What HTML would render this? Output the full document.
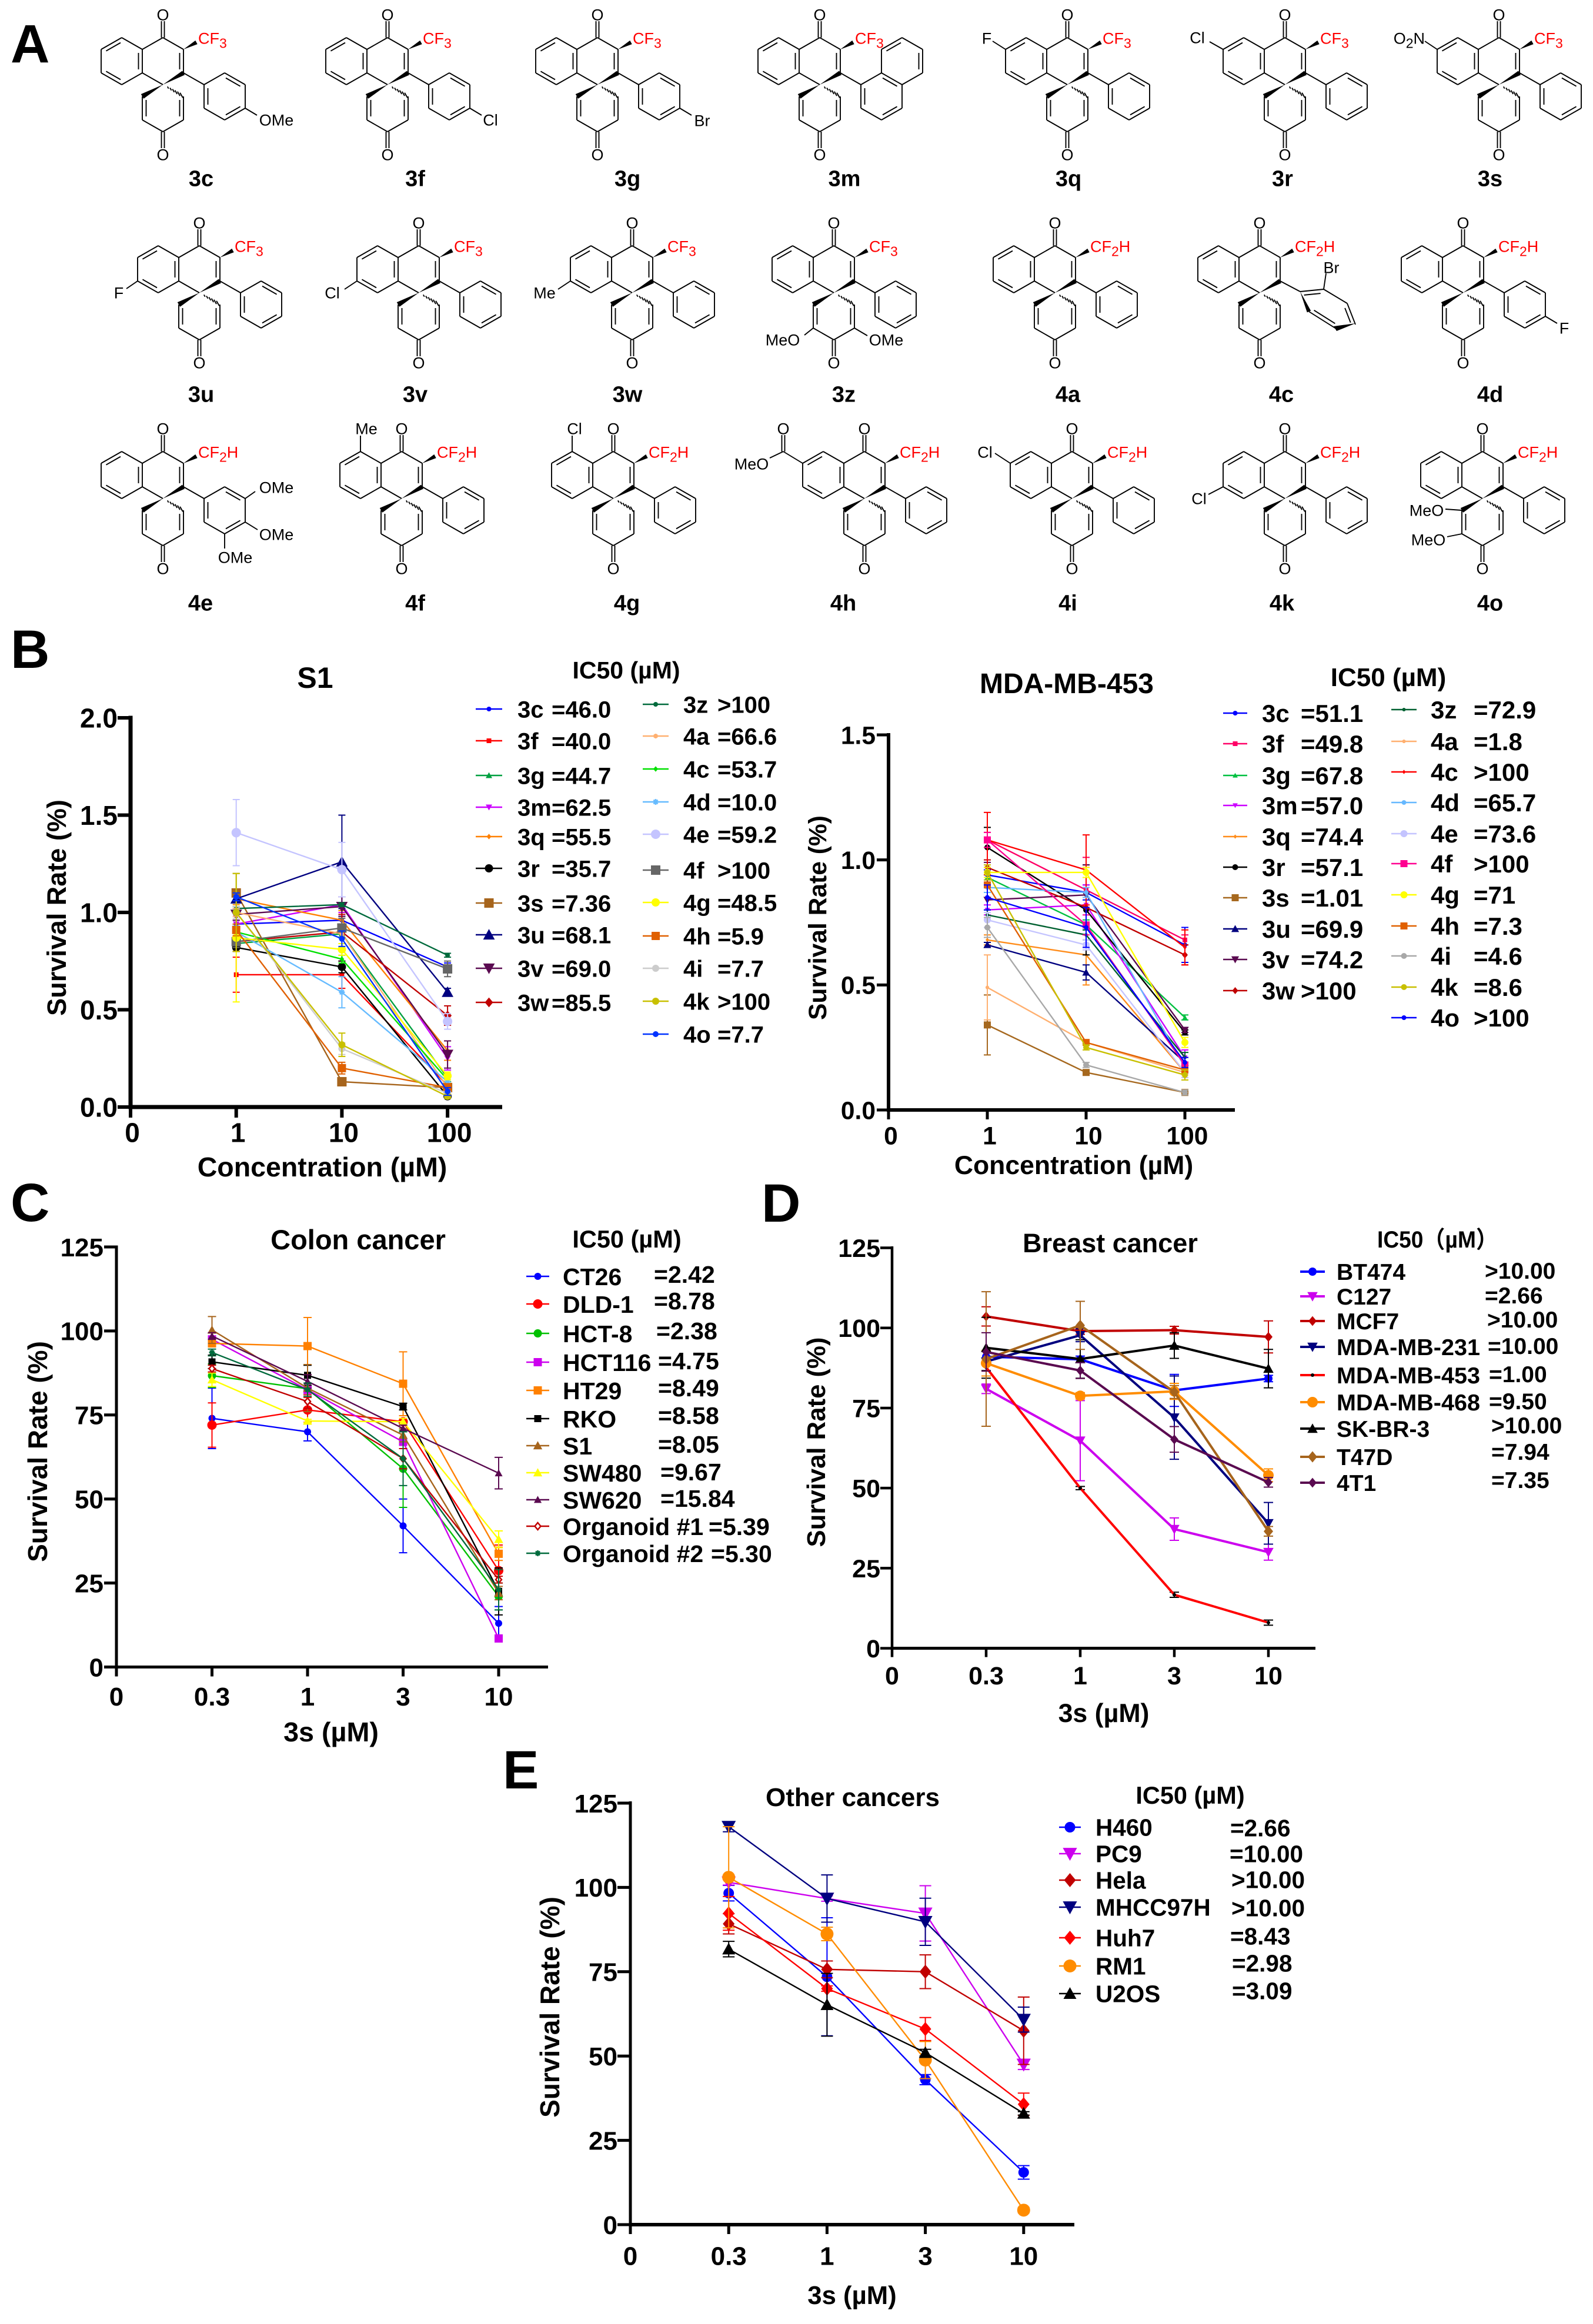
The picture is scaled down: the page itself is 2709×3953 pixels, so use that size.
<!DOCTYPE html>
<html lang="en">
<head>
<meta charset="utf-8">
<title>Compound structures and survival-rate charts</title>
<style>
html,body{margin:0;padding:0;background:#fff}
svg{display:block}
text{font-family:"Liberation Sans","Noto Sans CJK SC",sans-serif;fill:#000}
.b{font-weight:700}
.m{text-anchor:middle}
</style>
</head>
<body>
<svg id="fig" width="2709" height="3953" viewBox="0 0 2709 3953" xmlns="http://www.w3.org/2000/svg">
<rect x="0" y="0" width="2709" height="3953" fill="#fff"/>
<text class="b" x="18" y="106" font-size="92">A</text>
<text class="b" x="18" y="1136" font-size="92">B</text>
<text class="b" x="18" y="2077" font-size="92">C</text>
<text class="b" x="1295" y="2078" font-size="92">D</text>
<text class="b" x="855" y="3042" font-size="92">E</text>

<g id="structures"></g>

<g id="chart-s1">
<text class="b m" x="536" y="1170" font-size="50">S1</text>
<text class="b m" x="1065" y="1154" font-size="41">IC50 (µM)</text>
<text class="b m" transform="translate(112 1544) rotate(-90)" font-size="45">Survival Rate (%)</text>
<text class="b m" x="548" y="2001" font-size="46.5">Concentration (µM)</text>
</g>
<g id="chart-mda">
<text class="b m" x="1814" y="1179" font-size="48">MDA-MB-453</text>
<text class="b m" x="2361" y="1167" font-size="44">IC50 (µM)</text>
<text class="b m" transform="translate(1405 1561) rotate(-90)" font-size="42.6">Survival Rate (%)</text>
<text class="b m" x="1826" y="1997" font-size="44.5">Concentration (µM)</text>
</g>
<g id="chart-c">
<text class="b m" x="609" y="2125" font-size="47">Colon cancer</text>
<text class="b m" x="1066" y="2122" font-size="41.5">IC50 (µM)</text>
<text class="b m" transform="translate(80 2469) rotate(-90)" font-size="46">Survival Rate (%)</text>
<text class="b m" x="563" y="2962" font-size="46.7">3s (µM)</text>
</g>
<g id="chart-d">
<text class="b m" x="1888" y="2130" font-size="45">Breast cancer</text>
<text class="b" x="2342" y="2122" font-size="40" textLength="205" lengthAdjust="spacingAndGlyphs">IC50（µM）</text>
<text class="b m" transform="translate(1403 2453) rotate(-90)" font-size="43.7">Survival Rate (%)</text>
<text class="b m" x="1877" y="2929" font-size="44.7">3s (µM)</text>
</g>
<g id="chart-e">
<text class="b m" x="1450" y="3072" font-size="44">Other cancers</text>
<text class="b m" x="2024" y="3068" font-size="41.5">IC50 (µM)</text>
<text class="b m" transform="translate(951 3414) rotate(-90)" font-size="46">Survival Rate (%)</text>
<text class="b m" x="1449" y="3919" font-size="43.7">3s (µM)</text>
</g>
</svg>

<script>
/* ---------- chart data ---------- */
const s1XTicks = ['0','1','10','100'];
const s1YTicks = ['0.0','0.5','1.0','1.5','2.0'];
const s1Names = ['3c','3f','3g','3m','3q','3r','3s','3u','3v','3w','3z','4a','4c','4d','4e','4f','4g','4h','4i','4k','4o'];
const s1Ic50 = ['=46.0','=40.0','=44.7','=62.5','=55.5','=35.7','=7.36','=68.1','=69.0','=85.5','>100','=66.6','=53.7','=10.0','=59.2','>100','=48.5','=5.9','=7.7','>100','=7.7'];
const s1Values = [
 [0.94,0.96,0.72],[0.68,0.68,0.11],[0.84,0.89,0.15],[0.94,1.04,0.25],[1.07,0.96,0.29],
 [0.82,0.72,0.055],[1.10,0.13,0.10],[1.07,1.26,0.59],[0.99,1.03,0.27],[0.85,0.90,0.47],
 [1.02,1.04,0.78],[1.00,0.89,0.10],[0.90,0.76,0.14],[0.90,0.59,0.13],[1.41,1.22,0.44],
 [0.85,0.92,0.71],[0.87,0.81,0.16],[0.91,0.20,0.10],[1.00,0.30,0.07],[1.00,0.32,0.055],[1.08,0.865,0.08]
];
const s1Errors = [
 [.02,.02,.02],[.09,.07,.02],[.02,.02,.02],[.02,.04,.06],[.03,.05,.05],
 [.02,.03,.01],[.02,.02,.01],[.13,.24,.02],[.03,.05,.07],[.05,.09,.05],
 [.01,.01,.01],[.02,.02,.01],[.02,.02,.02],[.03,.08,.02],[.17,.14,.04],
 [.03,.05,.04],[.33,.03,.02],[.03,.03,.02],[.03,.03,.01],[.20,.06,.01],[.02,.04,.02]
];

const mdaXTicks = ['0','1','10','100'];
const mdaYTicks = ['0.0','0.5','1.0','1.5'];
const mdaNames = ['3c','3f','3g','3m','3q','3r','3s','3u','3v','3w','3z','4a','4c','4d','4e','4f','4g','4h','4i','4k','4o'];
const mdaIc50 = ['=51.1','=49.8','=67.8','=57.0','=74.4','=57.1','=1.01','=69.9','=74.2','>100','=72.9','=1.8','>100','=65.7','=73.6','>100','=71','=7.3','=4.6','=8.6','>100'];
const mdaValues = [
 [0.94,0.87,0.66],[1.08,0.88,0.68],[0.93,0.74,0.37],[0.80,0.82,0.21],[0.68,0.62,0.15],
 [1.05,0.80,0.31],[0.34,0.15,0.07],[0.66,0.55,0.19],[0.84,0.86,0.32],[0.97,0.81,0.62],
 [0.78,0.70,0.21],[0.49,0.27,0.15],[1.08,0.96,0.65],[0.89,0.87,0.17],[0.76,0.66,0.15],
 [1.08,0.74,0.18],[0.95,0.95,0.27],[0.90,0.27,0.16],[0.73,0.18,0.07],[0.95,0.25,0.14],[0.85,0.73,0.19]
];
const mdaErrors = [
 [.02,.03,.07],[.03,.13,.02],[.02,.02,.01],[.02,.08,.03],[.02,.12,.02],
 [.08,.18,.01],[.12,.01,.01],[.01,.03,.02],[.15,.12,.01],[.03,.16,.04],
 [.02,.02,.02],[.13,.01,.01],[.11,.14,.07],[.02,.02,.02],[.03,.02,.02],
 [.03,.04,.03],[.02,.02,.02],[.01,.01,.01],[.04,.01,.01],[.03,.01,.02],[.05,.08,.02]
];

const colonXTicks = ['0','0.3','1','3','10'];
const colonYTicks = ['0','25','50','75','100','125'];
const colonNames = ['CT26','DLD-1','HCT-8','HCT116','HT29','RKO','S1','SW480','SW620','Organoid #1','Organoid #2'];
const colonIc50 = ['=2.42','=8.78','=2.38','=4.75','=8.49','=8.58','=8.05','=9.67','=15.84','=5.39','=5.30'];
const colonValues = [
 [74,70,42,13],[72,76.5,73,28.7],[86.7,82.8,59,21],[97.5,82.5,67,8.5],[96.3,95.5,84.3,33.7],
 [90.8,86.8,77.5,22.5],[100.3,83,69,22],[85.5,73.2,73,38],[98.5,85,71,57.7],[88.8,79,62,26],[93.6,82.5,62,23]
];
const colonErrors = [
 [9,2.7,8,5],[6.6,3.7,1,7.6],[3.5,1,11.5,4],[1,1,1,1],[1,8.5,9.5,2],
 [2,3,1,7],[4,7,2,2],[2,.5,1,2.5],[1,2,1,4.7],[1,2,3,1],[1,2,8,6]
];

const breastXTicks = ['0','0.3','1','3','10'];
const breastYTicks = ['0','25','50','75','100','125'];
const breastNames = ['BT474','C127','MCF7','MDA-MB-231','MDA-MB-453','MDA-MB-468','SK-BR-3','T47D','4T1'];
const breastIc50 = ['>10.00','=2.66','>10.00','=10.00','=1.00','=9.50','>10.00','=7.94','=7.35'];
const breastValues = [
 [91,90.2,80.5,84.2],[81,64.8,37.2,30],[103.6,99,99.3,97.2],[89.5,97.7,72,39],[87.7,50,16.7,8],
 [89,78.8,80.2,54],[93.8,90.3,94.5,87.3],[90.3,100.8,80,36.5],[92.5,86.7,65.2,51.8]
];
const breastErrors = [
 [2,1,5,1],[1.5,12.5,3.5,2.5],[3,1,1.2,5],[1,2,13,6.5],[1,.5,.8,.8],
 [4,1,2.5,2],[9.5,6,4,6],[21,7.5,2,1.5],[6,2.5,4,1.5]
];

const otherXTicks = ['0','0.3','1','3','10'];
const otherYTicks = ['0','25','50','75','100','125'];
const otherNames = ['H460','PC9','Hela','MHCC97H','Huh7','RM1','U2OS'];
const otherIc50 = ['=2.66','=10.00','>10.00','>10.00','=8.43','=2.98','=3.09'];
const otherValues = [
 [98.3,73.5,43,15.5],[101.5,96.7,92.3,47.5],[89.2,75.7,75,57.5],[118,96.7,89.8,60.8],
 [92.3,70,58,35.7],[103,86.2,48.8,4.3],[81.7,65.2,51,33]
];
const otherErrors = [
 [2.3,17.5,1.5,2],[.8,.8,8.2,1.5],[3,2.5,5,10],[1.5,7,7,3.7],[5,.8,3.4,3.3],[15,2,5.5,.8],[2.3,9.3,1,.5]
];

/* ---------- helpers ---------- */
const NS = document.getElementById('fig').namespaceURI;
function mk(tag, parent){
  const e = document.createElementNS(NS, tag);
  parent.appendChild(e);
  return e;
}
function addText(parent, name, x, yc, str, size, opts){
  const o = opts || {};
  const t = mk('text', parent);
  
  
  t.setAttribute('x', x);
  t.setAttribute('y', yc + size * 0.36);
  t.setAttribute('font-size', size);
  if (o.bold) t.setAttribute('font-weight', '700');
  if (o.anchor) t.setAttribute('text-anchor', o.anchor);
  if (o.len){ t.setAttribute('textLength', o.len); t.setAttribute('lengthAdjust', 'spacingAndGlyphs'); }
  if (o.color) t.style.fill = o.color;
  t.textContent = str;
  return t;
}
function markerShape(parent, type, x, y, r, color){
  let m;
  if (type === 'circle'){
    m = mk('circle', parent);
    m.setAttribute('cx', x); m.setAttribute('cy', y); m.setAttribute('r', r);
    m.setAttribute('fill', color);
  } else if (type === 'square'){
    m = mk('rect', parent);
    m.setAttribute('x', x - r); m.setAttribute('y', y - r);
    m.setAttribute('width', 2 * r); m.setAttribute('height', 2 * r);
    m.setAttribute('fill', color);
  } else {
    m = mk('path', parent);
    let d = '';
    if (type === 'up') d = `M${x} ${y-r*1.1}L${x+r*1.1} ${y+r*0.9}L${x-r*1.1} ${y+r*0.9}Z`;
    if (type === 'down') d = `M${x} ${y+r*1.1}L${x+r*1.1} ${y-r*0.9}L${x-r*1.1} ${y-r*0.9}Z`;
    if (type === 'diamond' || type === 'open') d = `M${x} ${y-r*1.2}L${x+r} ${y}L${x} ${y+r*1.2}L${x-r} ${y}Z`;
    if (type === 'star') d = `M${x-r} ${y}H${x+r}M${x} ${y-r}V${y+r}M${x-r*.7} ${y-r*.7}L${x+r*.7} ${y+r*.7}M${x+r*.7} ${y-r*.7}L${x-r*.7} ${y+r*.7}`;
    m.setAttribute('d', d);
    if (type === 'star'){ m.setAttribute('fill', 'none'); m.setAttribute('stroke', color); m.setAttribute('stroke-width', 2.5); }
    else if (type === 'open'){ m.setAttribute('fill', '#fff'); m.setAttribute('stroke', color); m.setAttribute('stroke-width', 2.5); }
    else m.setAttribute('fill', color);
  }
  
  
  return m;
}
function segment(parent, x1, y1, x2, y2, color, w){
  const l = mk('line', parent);
  l.setAttribute('x1', x1); l.setAttribute('y1', y1);
  l.setAttribute('x2', x2); l.setAttribute('y2', y2);
  l.setAttribute('stroke', color); l.setAttribute('stroke-width', w);
  return l;
}

/* ---------- chart drawing ---------- */
function drawChart(id, xTicks, yTicks, names, ic50, values, errors, cfg){
  const root = document.getElementById(id);
  const yMax = parseFloat(yTicks[yTicks.length - 1]);
  const xOf = i => cfg.x0 + cfg.step * i;
  const yOf = v => cfg.y0 - (v / yMax) * (cfg.y0 - cfg.yTop);
  const markColor = s => (cfg.markerColors && cfg.markerColors[s]) || cfg.colors[s];

  // axes
  const yAxis = mk('g', root);
  
  
  segment(yAxis, cfg.x0, cfg.yTop - cfg.ah / 2, cfg.x0, cfg.y0 + cfg.ah / 2, '#000', cfg.av);
  yTicks.forEach(t => {
    const y = yOf(parseFloat(t));
    segment(yAxis, cfg.x0 - cfg.ytl, y, cfg.x0, y, '#000', cfg.tw);
    addText(yAxis, 'y-tick-label', cfg.yLabelX, y, t, cfg.tickFs, {bold:true, anchor:'end'});
  });
  const xAxis = mk('g', root);
  
  
  segment(xAxis, cfg.x0 - cfg.av / 2, cfg.y0, cfg.xEnd, cfg.y0, '#000', cfg.ah);
  xTicks.forEach((t, i) => {
    const x = xOf(i);
    segment(xAxis, x, cfg.y0, x, cfg.y0 + cfg.xtl, '#000', cfg.tw);
    addText(xAxis, 'x-tick-label', x + cfg.labelDx, cfg.xLabelY, t, cfg.tickFs, {bold:true, anchor:'middle'});
  });

  // series
  values.forEach((row, s) => {
    const g = mk('g', root);
    
    
    const color = cfg.colors[s];
    row.forEach((v, i) => {
      const x = xOf(i + 1), e = errors[s][i];
      const bar = mk('path', g);
      
      
      const c = cfg.cap;
      bar.setAttribute('d', `M${x} ${yOf(v-e)}V${yOf(v+e)}M${x-c} ${yOf(v+e)}H${x+c}M${x-c} ${yOf(v-e)}H${x+c}`);
      bar.setAttribute('fill', 'none');
      bar.setAttribute('stroke', markColor(s));
      bar.setAttribute('stroke-width', cfg.errW);
    });
    const line = mk('polyline', g);
    
    
    line.setAttribute('points', row.map((v, i) => xOf(i + 1) + ',' + yOf(v)).join(' '));
    line.setAttribute('fill', 'none');
    line.setAttribute('stroke', color);
    line.setAttribute('stroke-width', cfg.lineW);
    row.forEach((v, i) => markerShape(g, cfg.shapes[s], xOf(i + 1), yOf(v), cfg.sizes[s], markColor(s)));
  });

  // legend
  const L = cfg.legend;
  names.forEach((n, s) => {
    const g = mk('g', root);
    
    
    const col = L.cols.find(c => s >= c.start && s < c.start + c.ys.length);
    const k = s - col.start, y = col.ys[k];
    segment(g, col.key[0], y, col.key[1], y, cfg.colors[s], cfg.keyW);
    markerShape(g, cfg.shapes[s], (col.key[0] + col.key[1]) / 2, y, cfg.sizes[s], markColor(s));
    const lens = L.nameLens || {};
    addText(g, 'legend-label', col.nameX, y, n, L.fs, {bold:true, len: lens[s]});
    const vx = col.valXs ? col.valXs[k] : col.valX;
    const vy = col.valYs ? col.valYs[k] : y;
    addText(g, 'legend-ic50-value', vx, vy, ic50[s], L.fs, {bold:true});
  });
}

function drawAllCharts(){
  const gColors = ['#0000ff','#ff0000','#00a040','#cc00ff','#ff8000','#000000','#a6641c','#00007f','#5a0a50','#c00000','#006a3c','#ffb070','#00e000','#66bbff','#c4c4ff','#666666','#ffff00','#e06000','#cccccc','#c8c000','#0033ff'];
  const gShapes = ['circle','square','up','down','diamond','circle','square','up','down','diamond','circle','star','diamond','star','circle','square','circle','square','circle','circle','circle'];
  const gSizes = [4,4,5,5,4,7,8,9,9,7,4,4,4,5,8,8,7,7,6,6,5];
  const mSizes = [4,4,4,4,3,5,6,6,6,5,3,3,3,4,6,6,6,6,5,5,4];

  drawChart('chart-s1', s1XTicks, s1YTicks, s1Names, s1Ic50, s1Values, s1Errors, {
    x0:222, step:179.7, xEnd:854, y0:1883, yTop:1221, av:7, ah:7, tw:6, ytl:22, xtl:18,
    yLabelX:200, xLabelY:1926, tickFs:46, labelDx:3, cap:6, errW:2, lineW:2.4, keyW:2.5,
    colors:gColors, shapes:gShapes, sizes:gSizes,
    legend:{fs:40, cols:[
      {start:0, key:[809,854], nameX:880, valX:938, ys:[1206,1260,1319,1373,1423,1477,1536,1590,1647,1705]},
      {start:10, key:[1093,1137], nameX:1162, valX:1220, ys:[1198,1252,1308,1364,1419,1480,1535,1592,1647,1703,1759]}
    ]}
  });

  const mColors = ['#0000ff','#ff0066','#00c040','#cc00ff','#ff8c1a','#000000','#a6681e','#00007f','#5a0a50','#c00000','#006030','#ffb070','#ff0000','#66b8ff','#c4c4ff','#ff0090','#ffff00','#e06000','#a8a8a8','#c8c000','#0000ff'];
  drawChart('chart-mda', mdaXTicks, mdaYTicks, mdaNames, mdaIc50, mdaValues, mdaErrors, {
    x0:1511, step:168, xEnd:2100, y0:1888, yTop:1250, av:6, ah:6, tw:5, ytl:20, xtl:16,
    yLabelX:1489, xLabelY:1931, tickFs:42.5, labelDx:4, cap:6, errW:2, lineW:2.4, keyW:2.5,
    colors:mColors, shapes:gShapes, sizes:mSizes,
    legend:{fs:42, cols:[
      {start:0, key:[2080,2121], nameX:2146, valX:2212, ys:[1213,1265,1319,1370,1423,1475,1527,1580,1632,1685]},
      {start:10, key:[2366,2409], nameX:2433, valX:2506, ys:[1207,1261,1313,1365,1418,1469,1522,1575,1626,1679,1731]}
    ]}
  });

  drawChart('chart-c', colonXTicks, colonYTicks, colonNames, colonIc50, colonValues, colonErrors, {
    x0:198, step:162.5, xEnd:932, y0:2835.5, yTop:2121, av:5, ah:5, tw:5, ytl:21, xtl:16,
    yLabelX:176, xLabelY:2885, tickFs:44, labelDx:0, cap:7, errW:2, lineW:2.4, keyW:2.5,
    colors:['#0000ff','#ff0000','#00c000','#cc00ee','#ff8000','#000000','#a6641c','#ffff00','#5a0a50','#c00000','#006a3c'],
    shapes:['circle','circle','circle','square','square','square','up','up','up','open','star'],
    sizes:[6,8,7,7,7,6,7,7,6,5,5],
    legend:{fs:41, cols:[
      {start:0, key:[895,934], nameX:957,
       valXs:[1112,1112,1116,1119,1119,1119,1119,1123,1123,1205,1209],
       valYs:[2167,2212,2263,2314,2360,2407,2456,2503,2548,2596,2642],
       ys:[2171,2218,2268,2317,2365,2413,2459,2505,2551,2596,2642]}
    ]}
  });

  drawChart('chart-d', breastXTicks, breastYTicks, breastNames, breastIc50, breastValues, breastErrors, {
    x0:1517, step:160, xEnd:2237, y0:2803.6, yTop:2122.5, av:4.5, ah:5, tw:4.5, ytl:20, xtl:15,
    yLabelX:1497, xLabelY:2849.5, tickFs:43, labelDx:0, cap:8, errW:2, lineW:4, keyW:4,
    colors:['#0000ff','#cc00ee','#c00000','#00007f','#ff0000','#ff8c00','#000000','#a6641c','#5a0a50'],
    markerColors:{4:'#000000'},
    shapes:['circle','down','diamond','down','circle','circle','up','diamond','diamond'],
    sizes:[7,8,7,8,3,9,8,8,7],
    legend:{fs:39, nameLens:{3:244,4:244,5:244}, cols:[
      {start:0, key:[2211,2253], nameX:2273,
       valXs:[2525,2525,2529,2530,2532,2532,2536,2536,2536],
       valYs:[2161,2203,2244,2289,2337,2383,2424,2469,2517],
       ys:[2163,2205,2247,2291,2339,2385,2430,2478,2522]}
    ]}
  });

  drawChart('chart-e', otherXTicks, otherYTicks, otherNames, otherIc50, otherValues, otherErrors, {
    x0:1072, step:167.2, xEnd:1827, y0:3784, yTop:3067, av:5, ah:6, tw:5, ytl:22, xtl:16,
    yLabelX:1050, xLabelY:3836.5, tickFs:44, labelDx:0, cap:10, errW:2, lineW:2.4, keyW:2.5,
    colors:['#0000ff','#cc00ee','#c00000','#00007f','#ff0000','#ff8c00','#000000'],
    shapes:['circle','down','diamond','down','diamond','circle','up'],
    sizes:[9,11,10,11,10,11,10],
    legend:{fs:40.5, cols:[
      {start:0, key:[1801,1838], nameX:1863,
       valXs:[2092,2091,2094,2094,2092,2095,2095],
       valYs:[3109,3153,3197,3245,3293,3339,3386],
       ys:[3108,3153,3198,3244,3296,3344,3391]}
    ]}
  });
}

/* ---------- chemical structures ---------- */
function drawStructure(parent, c){
  const g = mk('g', parent);
  
  
  const ax = c.x, ay = c.y;
  let s = '', f = '';
  const bond = (p, q) => { s += `M${ax+p[0]} ${ay+p[1]}L${ax+q[0]} ${ay+q[1]}`; };
  const inner = (p, q, ctr) => {
    const mx = (p[0]+q[0])/2, my = (p[1]+q[1])/2;
    let dx = q[0]-p[0], dy = q[1]-p[1];
    const len = Math.hypot(dx, dy); dx /= len; dy /= len;
    let nx = -dy, ny = dx;
    if ((ctr[0]-mx)*nx + (ctr[1]-my)*ny < 0){ nx = -nx; ny = -ny; }
    const o = 6.5, sh = 6;
    bond([p[0]+nx*o+dx*sh, p[1]+ny*o+dy*sh], [q[0]+nx*o-dx*sh, q[1]+ny*o-dy*sh]);
  };
  const wedge = (p, q, w) => {
    let dx = q[0]-p[0], dy = q[1]-p[1];
    const len = Math.hypot(dx, dy); dx /= len; dy /= len;
    const nx = -dy*w/2, ny = dx*w/2;
    f += `M${ax+p[0]} ${ay+p[1]}L${ax+q[0]+nx} ${ay+q[1]+ny}L${ax+q[0]-nx} ${ay+q[1]-ny}Z`;
  };
  const K=[0,0],Kc=[35,20],D=[35,60],S=[0,80],F1=[-35,20],F2=[-35,60];
  const B1=[-70,0],B2=[-105,20],B3=[-105,60],B4=[-70,80];
  const L1=[-35,100],L2=[-35,140],Bot=[0,160],R2=[35,140],R1=[35,100];
  const A0=[70,80],A1=[105,60],A2=[140,80],A3=[140,120],A4=[105,140],A5=[70,120];
  const cB=[-70,40],cC=[0,40],cL=[0,120],cA=[105,100];
  // core rings
  [[K,Kc],[Kc,D],[S,F2],[F2,F1],[F1,K],[F1,B1],[B1,B2],[B2,B3],[B3,B4],[B4,F2],[L1,L2],[L2,Bot],[Bot,R2],[R2,R1]].forEach(b => bond(b[0], b[1]));
  inner(F1,F2,cB); inner(B1,B2,cB); inner(B3,B4,cB); inner(Kc,D,cC); inner(L1,L2,cL); inner(R1,R2,cL);
  // carbonyls
  bond([-2.5,0],[-2.5,-28]); bond([2.5,0],[2.5,-28]);
  bond([-2.5,160],[-2.5,188]); bond([2.5,160],[2.5,188]);
  // stereo bonds
  wedge(Kc,[57,8],7); wedge(S,D,8); wedge(S,L1,9);
  for (let i = 1; i <= 6; i++){
    const t = 0.12 + i * 0.13, hx = 35*t, hy = 80 + 20*t, h = 0.8 + 4.5*t;
    bond([hx - h*0.5, hy - h*0.87], [hx + h*0.5, hy + h*0.87]);
  }
  // aryl ring
  if (c.aryl !== 'twist'){
    [[D,A0],[A0,A1],[A1,A2],[A2,A3],[A3,A4],[A4,A5],[A5,A0]].forEach(b => bond(b[0], b[1]));
    inner(A1,A2,cA); inner(A3,A4,cA); inner(A5,A0,cA);
  } else {
    const T0=[69,78],T1=[109,74],T2=[149,98],T3=[163,134],T4=[130,141],T5=[84,112];
    [[D,T0],[T0,T1],[T1,T2],[T2,T3],[T4,T5]].forEach(b => bond(b[0], b[1]));
    inner(T0,T1,[116,108]); inner(T2,T3,[116,108]); inner(T4,T5,[116,108]);
    wedge(T0,T5,7); f += `M${ax+163} ${ay+132}L${ax+126} ${ay+137}L${ax+131} ${ay+145}Z`;
  }
  (c.bonds || []).forEach(b => bond([b[0],b[1]],[b[2],b[3]]));
  if (c.naph){
    const N1=[105,20],N2=[140,0],N3=[175,20],N4=[175,60],cN=[140,40];
    [[A1,N1],[N1,N2],[N2,N3],[N3,N4],[N4,A2]].forEach(b => bond(b[0], b[1]));
    inner(N1,N2,cN); inner(N3,N4,cN);
  }
  const sp = mk('path', g);
  
  
  sp.setAttribute('d', s);
  sp.setAttribute('fill', 'none');
  sp.setAttribute('stroke', '#000');
  sp.setAttribute('stroke-width', 1.9);
  const fp = mk('path', g);
  
  
  fp.setAttribute('d', f);
  fp.setAttribute('fill', '#000');
  // atoms
  addText(g, 'atom-label', ax, ay - 39, 'O', 27, {anchor:'middle'});
  addText(g, 'atom-label', ax, ay + 199, 'O', 27, {anchor:'middle'});
  const rf = addText(g, 'fluoroalkyl-label', ax + 60, ay + 1, 'CF', 27, {color:'#ff0000'});
  const sub = mk('tspan', rf);
  sub.setAttribute('dy', 7);
  sub.setAttribute('font-size', 23);
  sub.textContent = c.cf2h ? '2' : '3';
  if (c.cf2h){
    const h = mk('tspan', rf);
    h.setAttribute('dy', -7);
    h.textContent = 'H';
  }
  (c.atoms || []).forEach(a => {
    if (a[0] === 'O2N'){
      const t = addText(g, 'substituent-label', ax + a[1], ay + a[2], 'O', 27, {anchor:'end'});
      const sb = mk('tspan', t);
      sb.setAttribute('dy', 7);
      sb.setAttribute('font-size', 23);
      sb.textContent = '2';
      const nn = mk('tspan', t);
      nn.setAttribute('dy', -7);
      nn.textContent = 'N';
    } else {
      addText(g, 'substituent-label', ax + a[1], ay + a[2], a[0], 27, {anchor:'middle'});
    }
  });
  addText(g, 'compound-label', c.lx, c.ly, c.id, 38, {bold:true, anchor:'middle'});
}

function drawAllStructures(){
  const root = document.getElementById('structures');
  const paraB = [140,120,160,132];
  const list = [
    {id:'3c',x:277,y:64,lx:342,ly:303,bonds:[paraB],atoms:[['OMe',193,140]]},
    {id:'3f',x:659,y:64,lx:706,ly:303,bonds:[paraB],atoms:[['Cl',175,140]]},
    {id:'3g',x:1016,y:64,lx:1067,ly:303,bonds:[paraB],atoms:[['Br',178,141]]},
    {id:'3m',x:1394,y:64,lx:1436,ly:303,naph:true},
    {id:'3q',x:1815,y:64,lx:1817,ly:303,bonds:[[-105,20,-127,6]],atoms:[['F',-137,1]]},
    {id:'3r',x:2185,y:64,lx:2181,ly:303,bonds:[[-105,20,-128,7]],atoms:[['Cl',-149,0]]},
    {id:'3s',x:2549,y:64,lx:2534,ly:303,bonds:[[-105,20,-126,6]],atoms:[['O2N',-126,1]]},
    {id:'3u',x:339,y:418,lx:342,ly:670,bonds:[[-105,60,-124,73]],atoms:[['F',-137,80]]},
    {id:'3v',x:712,y:418,lx:706,ly:670,bonds:[[-105,60,-126,74]],atoms:[['Cl',-147,80]]},
    {id:'3w',x:1075,y:418,lx:1067,ly:670,bonds:[[-105,60,-126,74]],atoms:[['Me',-149,80]]},
    {id:'3z',x:1418,y:418,lx:1435,ly:670,bonds:[[-35,140,-50,152],[35,140,57,153]],atoms:[['MeO',-87,160],['OMe',89,160]]},
    {id:'4a',x:1794,y:418,lx:1816,ly:670,cf2h:true},
    {id:'4c',x:2142,y:418,lx:2179,ly:670,cf2h:true,aryl:'twist',bonds:[[109,74,113,47]],atoms:[['Br',122,37]]},
    {id:'4d',x:2488,y:418,lx:2534,ly:670,cf2h:true,bonds:[paraB],atoms:[['F',172,140]]},
    {id:'4e',x:277,y:768,lx:341,ly:1025,cf2h:true,bonds:[[140,80,157,68],[140,120,161,133],[105,140,105,165]],atoms:[['OMe',193,61],['OMe',193,141],['OMe',123,180]]},
    {id:'4f',x:683,y:768,lx:706,ly:1025,cf2h:true,bonds:[[-70,0,-70,-27]],atoms:[['Me',-60,-39]]},
    {id:'4g',x:1043,y:768,lx:1066,ly:1025,cf2h:true,bonds:[[-70,0,-70,-27]],atoms:[['Cl',-66,-39]]},
    {id:'4h',x:1470,y:768,lx:1434,ly:1025,cf2h:true,bonds:[[-105,20,-138,0],[-140.5,0,-140.5,-28],[-135.5,0,-135.5,-28],[-138,0,-161,11]],atoms:[['O',-138,-39],['MeO',-192,21]]},
    {id:'4i',x:1823,y:768,lx:1816,ly:1025,cf2h:true,bonds:[[-105,20,-131,3]],atoms:[['Cl',-148,1]]},
    {id:'4k',x:2185,y:768,lx:2180,ly:1025,cf2h:true,bonds:[[-105,60,-130,73]],atoms:[['Cl',-146,80]]},
    {id:'4o',x:2521,y:768,lx:2534,ly:1025,cf2h:true,bonds:[[-35,100,-63,98],[-35,140,-60,145]],atoms:[['MeO',-95,100],['MeO',-92,150]]}
  ];
  list.forEach(c => drawStructure(root, c));
}

drawAllStructures();
drawAllCharts();
</script>
</body>
</html>
